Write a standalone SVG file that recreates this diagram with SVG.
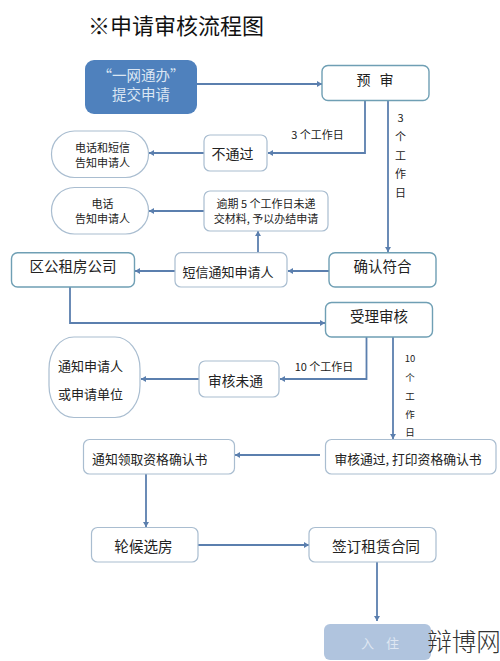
<svg xmlns="http://www.w3.org/2000/svg" width="500" height="661" viewBox="0 0 500 661">
<defs>
<marker id="a" markerUnits="userSpaceOnUse" markerWidth="6" markerHeight="6" refX="5" refY="3" orient="auto"><path d="M0 0L5 3L0 6Z" fill="#5b7fae"/></marker>
</defs>
<style>
text{font-family:"Noto Sans CJK SC","Liberation Sans",sans-serif;fill:#222;text-anchor:middle}
.n{fill:#fff;stroke:#a9bdd0;stroke-width:1.2}
.t{fill:#fff;stroke:#6f9fb4;stroke-width:1.4}
.c{fill:none;stroke:#5b7fae;stroke-width:1.8;marker-end:url(#a)}
.s{font-size:11px}
</style>
<rect width="500" height="661" fill="#fff"/>
<text x="176" y="34" style="font-size:22px;fill:#111">※申请审核流程图</text>
<g id="connectors">
<path class="c" d="M197 84H322"/>
<path class="c" d="M365 100V153H268"/>
<path class="c" d="M388 100V252"/>
<path class="c" d="M204 153H149"/>
<path class="c" d="M204 211H149"/>
<path class="c" d="M258 252V231"/>
<path class="c" d="M329 271H288"/>
<path class="c" d="M175 271H135"/>
<path class="c" d="M70 287V323H325"/>
<path class="c" d="M366.500 337V379H280"/>
<path class="c" d="M393 337V439"/>
<path class="c" d="M199 379H141"/>
<path class="c" d="M320 455H235"/>
<path class="c" d="M146 474V527"/>
<path class="c" d="M198 545H309"/>
<path class="c" d="M377 562V621"/>
</g>
<g id="labels">
<text class="s" x="317.500" y="139">3 个工作日</text>
<text class="s" x="400.500" y="122">3</text>
<text class="s" x="400.500" y="141">个</text>
<text class="s" x="400.500" y="160">工</text>
<text class="s" x="400.500" y="178">作</text>
<text class="s" x="400.500" y="197">日</text>
<text class="s" x="324" y="371">10 个工作日</text>
<text x="410" y="361.500" style="font-size:9.500px">10</text>
<text x="410" y="380.500" style="font-size:9.500px">个</text>
<text x="410" y="399.500" style="font-size:9.500px">工</text>
<text x="410" y="417.500" style="font-size:9.500px">作</text>
<text x="410" y="435.500" style="font-size:9.500px">日</text>
</g>
<g id="n1"><rect x="85" y="60" width="112" height="54" rx="9" fill="#4f81bd"/><text x="141" y="80.500" style="font-size:14.500px;fill:#dbe6f3">“一网通办”</text><text x="141" y="99.500" style="font-size:14.500px;fill:#dbe6f3">提交申请</text></g>
<g id="n2"><rect class="t" x="322" y="65.500" width="107" height="35" rx="6"/><text x="375" y="85" style="font-size:14px;word-spacing:6px">预 审</text></g>
<g id="n3"><rect class="n" x="204" y="135" width="63" height="36" rx="6"/><text x="232.500" y="159" style="font-size:14px">不通过</text></g>
<g id="n4"><rect class="n" x="51.500" y="131" width="97" height="46.500" rx="23"/><text x="102.500" y="152" class="s">电话和短信</text><text x="102.500" y="166.500" class="s">告知申请人</text></g>
<g id="n5"><rect class="n" x="51.500" y="187.500" width="97" height="46.500" rx="23"/><text x="102.500" y="208" class="s">电话</text><text x="102.500" y="223" class="s">告知申请人</text></g>
<g id="n6"><rect class="n" x="204" y="191" width="124" height="40" rx="6"/><text x="266" y="207.500" class="s">逾期 5 个工作日未递</text><text x="266" y="222.500" class="s">交材料, 予以办结申请</text></g>
<g id="n7"><rect class="t" x="11.500" y="252.700" width="123" height="34.300" rx="6"/><text x="73" y="272" style="font-size:14.500px">区公租房公司</text></g>
<g id="n8"><rect class="n" x="175" y="252.700" width="112" height="34.300" rx="6"/><text x="228" y="277" style="font-size:13px">短信通知申请人</text></g>
<g id="n9"><rect class="t" x="329" y="252.700" width="107" height="34.300" rx="6"/><text x="382.500" y="272" style="font-size:14.500px">确认符合</text></g>
<g id="n10"><rect class="t" x="325.500" y="302.500" width="107" height="34.500" rx="6"/><text x="379" y="322" style="font-size:14.500px">受理审核</text></g>
<g id="n11"><rect class="n" x="49" y="337" width="91" height="80.500" rx="25" ry="32"/><text x="90.500" y="371" style="font-size:13px">通知申请人</text><text x="90.500" y="399" style="font-size:13px">或申请单位</text></g>
<g id="n12"><rect class="n" x="199" y="361" width="80" height="36" rx="6"/><text x="235.500" y="386" style="font-size:13.700px">审核未通</text></g>
<g id="n13"><rect class="n" x="83.500" y="439.500" width="151" height="34.500" rx="6"/><text x="149.700" y="463.500" style="font-size:12.800px">通知领取资格确认书</text></g>
<g id="n14"><rect class="n" x="325.500" y="439.500" width="170.500" height="34.500" rx="6"/><text x="408" y="463.500" style="font-size:12.800px">审核通过, 打印资格确认书</text></g>
<g id="n15"><rect class="n" x="91.500" y="527.500" width="106.500" height="34.500" rx="6"/><text x="143.500" y="552" style="font-size:14.600px">轮候选房</text></g>
<g id="n16"><rect class="n" x="309" y="527.500" width="127" height="34.500" rx="6"/><text x="376" y="552" style="font-size:14.700px">签订租赁合同</text></g>
<g id="n17"><rect x="324" y="624" width="107" height="36" rx="6" fill="#b0c4de"/><text x="380" y="648" style="font-size:13px;word-spacing:9px;fill:#dfe7f2">入 住</text></g>
<text x="464" y="651" style="font-size:24.500px;font-weight:300;fill:#333">辩博网</text>
</svg>
